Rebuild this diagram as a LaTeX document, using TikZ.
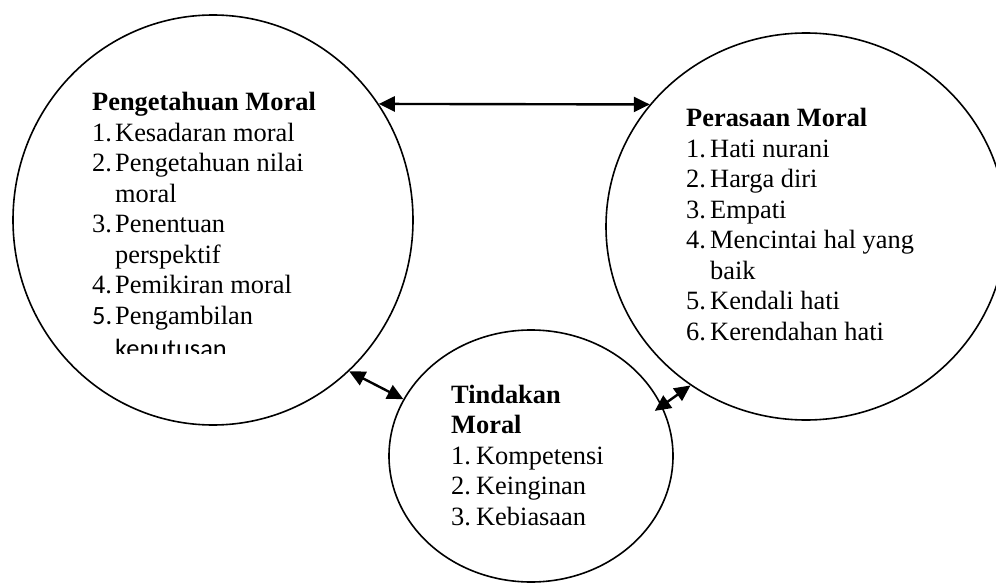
\documentclass[tikz,border=0pt]{standalone}
\usepackage{fontspec}
\setmainfont{Liberation Serif}
\newfontfamily\calib{Carlito}
\usetikzlibrary{shapes.geometric,arrows.meta}
\tikzset{
  bubble/.style={draw, ellipse, line width=1.6pt, inner sep=0pt},
  label/.style={anchor=base west, inner sep=0pt, font=\fontsize{26.4}{30.5}\selectfont},
  link/.style={line width=2.4pt, {Triangle[length=16pt,width=15pt]}-{Triangle[length=16pt,width=15pt]}}
}
\begin{document}
\begin{tikzpicture}[x=1pt,y=-1pt]
\useasboundingbox (0,0) rectangle (996,583);
\node[bubble, minimum width=400pt, minimum height=410pt] (know) at (213,220) {};
\node[bubble, minimum width=400pt, minimum height=387pt] (feel) at (806,226.5) {};
\node[bubble, minimum width=284pt, minimum height=252pt] (act) at (531,456) {};

\node[label] (tknow) at (92,111) {\begin{tabular}[t]{@{}l@{}}
\textbf{Pengetahuan Moral}\\
\makebox[23pt][l]{1.}Kesadaran moral\\
\makebox[23pt][l]{2.}Pengetahuan nilai\\
\hspace*{23pt}moral\\
\makebox[23pt][l]{3.}Penentuan\\
\hspace*{23pt}perspektif\\
\makebox[23pt][l]{4.}Pemikiran moral\\
\makebox[23pt][l]{\calib 5.}Pengambilan
\end{tabular}};
\begin{scope}
\clip (0,0) rectangle (996,353);
\node[label] (tkep) at (115,357) {\calib keputusan};
\end{scope}

\node[label] (tfeel) at (686,127) {\begin{tabular}[t]{@{}l@{}}
\textbf{Perasaan Moral}\\
\makebox[24pt][l]{1.}Hati nurani\\
\makebox[24pt][l]{2.}Harga diri\\
\makebox[24pt][l]{3.}Empati\\
\makebox[24pt][l]{4.}Mencintai hal yang\\
\hspace*{24pt}baik\\
\makebox[24pt][l]{5.}Kendali hati\\
\makebox[24pt][l]{6.}Kerendahan hati
\end{tabular}};

\node[label] (tact) at (451,403) {\begin{tabular}[t]{@{}l@{}}
\textbf{Tindakan}\\
\textbf{Moral}\\
\makebox[25pt][l]{1.}Kompetensi\\
\makebox[25pt][l]{2.}Keinginan\\
\makebox[25pt][l]{3.}Kebiasaan
\end{tabular}};

\draw[link] (know.35.5) -- (feel.142);
\draw[link] (know.-48.6) -- (act.156.4);
\draw[link, shorten <=-9pt] (act.21.6) -- (feel.-126.3);
\end{tikzpicture}
\end{document}
